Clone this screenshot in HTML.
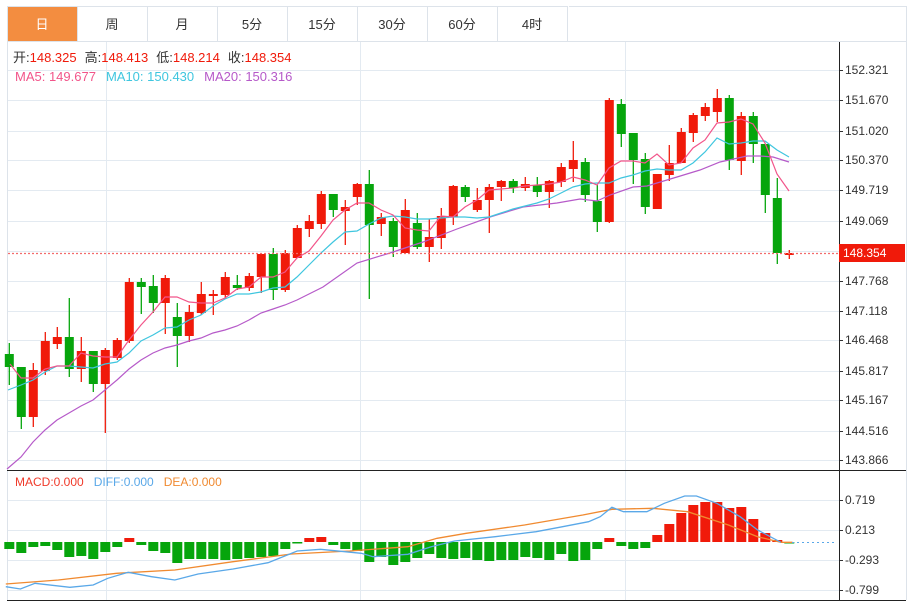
<!DOCTYPE html>
<html><head><meta charset="utf-8"><style>
body{margin:0;background:#fff;width:909px;height:604px;overflow:hidden;font-family:"Liberation Sans","Noto Sans CJK SC",sans-serif}
svg{position:absolute;left:0;top:0}
</style></head><body>
<svg id="s" width="909" height="604" xmlns="http://www.w3.org/2000/svg" font-family="Liberation Sans, Noto Sans CJK SC, sans-serif"></svg>
<script>
var S=document.getElementById('s'),h='';
function R(x,y,w,hh,f){h+='<rect x="'+x+'" y="'+y+'" width="'+w+'" height="'+hh+'" fill="'+f+'"/>';}
function L(x1,y1,x2,y2,c,w,d){h+='<line x1="'+x1+'" y1="'+y1+'" x2="'+x2+'" y2="'+y2+'" stroke="'+c+'" stroke-width="'+(w||1)+'"'+(d?' stroke-dasharray="'+d+'"':'')+'/>';}
function T(x,y,t,c,s,a){h+='<text x="'+x+'" y="'+y+'" fill="'+c+'" font-size="'+(s||12)+'"'+(a?' text-anchor="'+a+'"':'')+'>'+t+'</text>';}
function P(pts,c,w){h+='<polyline fill="none" stroke="'+c+'" stroke-width="'+(w||1.2)+'" points="'+pts.map(function(p){return p.join(',')}).join(' ')+'"/>';}
// frame
R(7,6,899,35,'#fff');
var tabs=['日','周','月','5分','15分','30分','60分','4时'];
for(var i=0;i<8;i++){var x=7+i*70;if(i==0)R(x,6,70,35,'#f38d40');h+='<rect x="'+(x+.5)+'" y="6.5" width="70" height="35" fill="none" stroke="#dde3ea"/>';T(x+35,29,tabs[i],i==0?'#fff':'#333',13,'middle');}
L(569,6.5,906,6.5,'#dde3ea');L(906.5,6,906.5,600,'#dde3ea');L(7.5,41,7.5,600,'#dde3ea');L(7,41.5,906,41.5,'#dde3ea');
// grid
var py=[70,100,131,160,190,221,281,311,340,371,400,431,460];
var pl=['152.321','151.670','151.020','150.370','149.719','149.069','147.768','147.118','146.468','145.817','145.167','144.516','143.866'];
py.forEach(function(y,k){L(8,y+.5,839,y+.5,'#e3eaf1');L(839,y+.5,843,y+.5,'#333');T(845,y+4,pl[k],'#333',12);});
L(8,251.5,839,251.5,'#e3eaf1');
[106,360,625].forEach(function(x){L(x+.5,42,x+.5,600,'#e3eaf1');});
[500,530,560,590].forEach(function(y,k){L(8,y+.5,839,y+.5,'#e3eaf1');L(839,y+.5,843,y+.5,'#333');T(845,y+4,['0.719','0.213','-0.293','-0.799'][k],'#333',12);});
L(7,470.5,906,470.5,'#222');L(7,600.5,906,600.5,'#222');L(839.5,42,839.5,600,'#222');
// candles: [oy,cy,hy,ly]
var C=[[354,367,343,385],[367,417,367,429],[417,370,363,427],[371,341,332,375],[344,337,327,349],[337,369,298,377],[369,351,337,382],[351,384,351,392],[384,350,348,433],[358,340,338,360],[341,282,278,343],[282,287,278,314],[286,303,275,313],[303,278,275,334],[317,336,303,367],[336,312,305,342],[313,294,282,315],[296,294,290,315],[295,277,272,299],[285,288,275,290],[288,276,273,291],[277,254,254,293],[254,290,248,300],[290,253,250,292],[258,228,225,258],[229,221,215,237],[224,194,191,229],[194,210,194,217],[211,207,200,245],[197,184,183,205],[184,225,170,299],[224,217,213,236],[221,247,218,257],[253,210,199,253],[223,247,213,249],[247,237,219,262],[238,216,208,249],[217,186,185,225],[187,197,185,202],[210,200,188,212],[200,187,184,233],[187,181,180,201],[181,188,179,193],[188,184,177,191],[185,192,177,197],[192,181,180,208],[182,167,163,187],[169,160,141,182],[162,195,158,202],[201,222,185,232],[222,100,98,223],[104,134,99,147],[133,160,133,184],[159,207,153,214],[209,174,174,209],[175,163,145,181],[163,132,128,163],[133,115,113,142],[116,107,103,121],[112,98,89,122],[98,160,95,170],[161,116,112,175],[116,144,112,163],[144,195,144,213],[198,253,178,264],[255,253,250,259]];
C.forEach(function(c,i){var x=9.3+12*i,up=c[1]<c[0],col=up?'#f01a0a':'#06a50c';L(x,c[2],x,c[3],col,1.3);var t=Math.min(c[0],c[1]),b=Math.max(c[0],c[1]);R(x-4.5,t,9,Math.max(b-t,1.5),col);});
function X(a){return a.map(function(p){return p;});}
var ma5=[[10,364],[21,378],[33,378],[45,369],[57,366],[69,366],[81,353],[93,356],[105,357],[117,357],[129,340],[141,325],[153,312],[165,297],[177,297],[189,302],[201,303],[213,303],[225,298],[237,289],[249,287],[261,277],[273,277],[285,272],[297,258],[309,251],[321,236],[333,220],[345,210],[357,203],[369,203],[381,210],[393,215],[405,228],[417,230],[429,231],[441,216],[453,217],[465,207],[477,200],[489,190],[501,189],[513,188],[525,186],[537,185],[549,184],[561,182],[573,177],[585,180],[597,185],[609,168],[621,161],[633,161],[645,163],[657,154],[669,165],[681,163],[693,148],[705,140],[717,123],[729,122],[741,119],[753,124],[765,143],[777,174],[789,191]];
var ma10=[[8,390],[21,385],[33,380],[45,372],[57,366],[69,366],[81,367],[93,368],[105,364],[117,362],[129,353],[141,341],[153,335],[165,328],[177,327],[189,320],[201,315],[213,306],[225,299],[237,294],[249,294],[261,292],[273,288],[285,287],[297,277],[309,265],[321,253],[333,242],[345,232],[357,231],[369,224],[381,218],[393,216],[405,217],[417,219],[429,219],[441,218],[453,217],[465,217],[477,218],[489,217],[501,213],[513,209],[525,206],[537,203],[549,199],[561,193],[573,187],[585,184],[597,183],[609,183],[621,178],[633,175],[645,171],[657,169],[669,170],[681,170],[693,163],[705,152],[717,138],[729,144],[741,143],[753,141],[765,141],[777,150],[789,157]];
var ma20=[[7,469],[21,457],[33,442],[45,430],[57,420],[69,413],[81,406],[93,400],[105,390],[117,380],[129,369],[141,360],[153,353],[165,348],[177,345],[189,341],[201,338],[213,333],[225,330],[237,326],[249,320],[261,313],[273,309],[285,305],[297,300],[323,287],[357,263],[390,253],[423,242],[457,229],[490,217],[523,207],[557,203],[580,199],[597,201],[610,195],[633,187],[647,186],[677,177],[700,170],[720,162],[747,156],[760,156],[773,157],[789,162]];
P(ma20,'#b65ac9');P(ma10,'#3fc6df');P(ma5,'#f2558a');
// current price
L(8,253.5,839,253.5,'#f26b6b',1.3,'2,2');R(839,244,66,18,'#f01a0a');T(843,257,'148.354','#fff',12);
// legend
h+='<text x="13" y="62" font-size="13"><tspan fill="#333">开:</tspan><tspan fill="#f01a0a">148.325</tspan><tspan fill="#333" dx="8">高:</tspan><tspan fill="#f01a0a">148.413</tspan><tspan fill="#333" dx="8">低:</tspan><tspan fill="#f01a0a">148.214</tspan><tspan fill="#333" dx="8">收:</tspan><tspan fill="#f01a0a">148.354</tspan></text>';
h+='<text x="15" y="81" font-size="13"><tspan fill="#f2558a">MA5: 149.677</tspan><tspan fill="#3fc6df" dx="10">MA10: 150.430</tspan><tspan fill="#b65ac9" dx="10">MA20: 150.316</tspan></text>';
h+='<text x="15" y="486" font-size="12"><tspan fill="#f03a2a">MACD:0.000</tspan><tspan fill="#5aa8e8" dx="10">DIFF:0.000</tspan><tspan fill="#f08a30" dx="10">DEA:0.000</tspan></text>';
// MACD hist
var Z=542,M=[549,553,547,546,550,557,556,559,552,547,538,545,551,553,563,559,559,559,560,559,558,557,556,549,543,538,537,545,549,551,562,557,565,562,558,554,558,559,558,560,561,560,560,557,558,560,554,561,560,549,538,546,549,548,535,524,513,505,502,502,508,507,519,533,540,542];
M.forEach(function(v,i){var x=9.3+12*i;if(v<Z)R(x-5,v,10,Z-v,'#f01a0a');else R(x-5,Z,10,Math.max(v-Z,1.5),'#06a50c');});
function cv(a){return a.map(function(p){return [ (p[0]/1.716).toFixed(1), (p[1]/3+470).toFixed(1)];});}
P(cv([[10,342],[100,330],[200,310],[300,300],[400,275],[500,252],[600,243],[700,230],[750,205],[800,190],[900,165],[1000,135],[1050,118],[1120,115],[1180,125],[1250,165],[1300,200],[1340,217],[1360,217]]),'#f08a30',1.3);
P(cv([[10,350],[35,357],[60,340],[120,352],[160,345],[185,325],[220,307],[260,320],[300,330],[340,312],[400,297],[460,278],[510,243],[550,238],[620,250],[640,260],[700,253],[740,230],[780,213],[850,200],[920,185],[960,172],[1010,155],[1030,140],[1050,112],[1070,125],[1110,125],[1140,100],[1175,78],[1195,78],[1230,100],[1270,140],[1300,180],[1340,217]]),'#5aa8e8',1.3);
L(792,542.5,836,542.5,'#5aa8e8',1,'2,3');
S.innerHTML=h;
</script>
</body></html>
